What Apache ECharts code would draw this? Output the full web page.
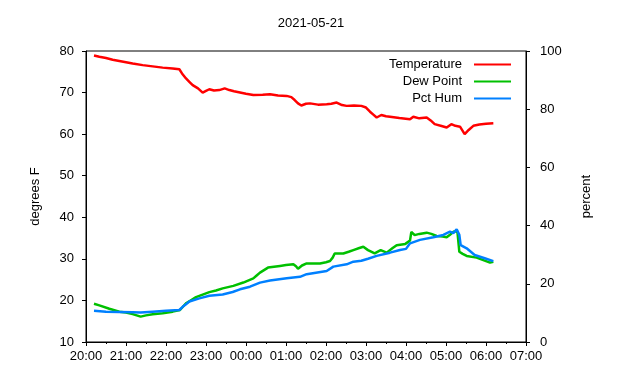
<!DOCTYPE html>
<html>
<head>
<meta charset="utf-8">
<script src="https://cdn.jsdelivr.net/npm/echarts@6/dist/echarts.min.js"></script>
<style>html,body{margin:0;padding:0;background:#fff;}#c{width:640px;height:380px;}</style>
</head>
<body>
<div id="c"></div>
<script>
const titleText = "2021-05-21";
const tickHours = ["20:00","21:00","22:00","23:00","00:00","01:00","02:00","03:00","04:00","05:00","06:00","07:00"];

const tempTimes = ["20:12","20:20","20:30","20:40","20:50","21:00","21:10","21:25","21:40","21:55","22:10","22:20","22:24","22:30","22:35","22:40","22:48","22:55","23:00","23:05","23:12","23:20","23:28","23:35","23:42","23:51","00:00","00:11","00:25","00:36","00:48","01:01","01:08","01:13","01:18","01:23","01:30","01:36","01:48","02:01","02:08","02:16","02:24","02:31","02:42","02:53","03:00","03:06","03:11","03:16","03:23","03:30","03:36","03:50","04:06","04:11","04:20","04:31","04:37","04:43","04:52","05:01","05:08","05:14","05:21","05:25","05:28","05:34","05:41","05:50","06:00","06:11"];
const tempValues = [78.9,78.6,78.3,77.9,77.6,77.3,77.0,76.6,76.3,76.0,75.8,75.6,74.6,73.4,72.6,71.8,71.0,70.0,70.4,70.8,70.5,70.6,71.0,70.6,70.3,70.0,69.7,69.4,69.5,69.6,69.3,69.2,68.9,68.2,67.4,66.9,67.3,67.4,67.1,67.2,67.3,67.6,67.0,66.8,66.9,66.8,66.4,65.4,64.7,64.0,64.6,64.3,64.2,63.9,63.6,64.2,63.8,64.0,63.3,62.4,62.0,61.6,62.4,62.0,61.8,60.8,60.0,61.0,62.0,62.3,62.5,62.6];

const dewTimes = ["20:12","20:20","20:35","20:50","21:00","21:10","21:22","21:30","21:40","21:55","22:10","22:21","22:26","22:30","22:38","22:45","22:55","23:05","23:15","23:25","23:41","23:56","00:11","00:16","00:21","00:27","00:33","00:51","01:00","01:11","01:15","01:18","01:24","01:31","01:51","02:00","02:06","02:10","02:13","02:26","02:34","02:41","02:50","02:56","03:03","03:13","03:22","03:31","03:40","03:46","03:59","04:06","04:08","04:13","04:20","04:31","04:38","04:46","04:55","05:01","05:06","05:11","05:17","05:20","05:25","05:31","05:46","05:56","06:06","06:11"];
const dewValues = [19.2,18.8,18.0,17.3,17.1,16.7,16.1,16.4,16.7,16.9,17.3,17.7,18.6,19.3,20.1,20.8,21.4,22.0,22.4,22.9,23.5,24.3,25.3,26.0,26.7,27.3,27.9,28.3,28.5,28.7,28.2,27.6,28.4,28.9,28.9,29.2,29.5,30.3,31.3,31.3,31.7,32.1,32.6,32.9,32.1,31.3,32.1,31.5,32.6,33.3,33.6,34.4,36.5,35.7,36.0,36.3,36.0,35.5,35.4,35.2,35.8,36.5,36.7,31.7,31.2,30.7,30.3,29.7,29.1,29.3];

const humTimes = ["20:12","20:30","20:50","21:10","21:22","21:40","22:00","22:20","22:25","22:30","22:35","22:50","23:05","23:25","23:40","23:51","00:06","00:21","00:36","01:01","01:21","01:31","02:01","02:11","02:31","02:41","02:53","03:03","03:16","03:36","03:51","04:00","04:06","04:21","04:41","04:56","05:06","05:11","05:16","05:20","05:22","05:31","05:43","05:58","06:11"];
const humValues = [10.7,10.4,10.3,10.2,10.1,10.4,10.7,11.0,12.1,13.0,13.9,15.0,15.9,16.3,17.2,18.1,19.0,20.4,21.1,21.9,22.4,23.3,24.4,25.9,26.7,27.6,27.9,28.6,29.6,30.7,31.6,32.0,33.9,35.1,36.0,36.8,37.9,37.4,38.7,36.8,33.3,32.2,29.9,28.8,27.8];

function toMin(t){
  const p = t.split(":");
  let h = +p[0];
  if (h < 12) h += 24;
  return h*60 + (+p[1]) - 20*60;
}
function pairs(ts, vs){ return ts.map((t,i)=>[toMin(t), vs[i]]); }

const FONT = "Liberation Sans, Arial, sans-serif";
const chart = echarts.init(document.getElementById('c'), null, {renderer:'canvas'});
const axisCommon = {
  axisLine:{show:true, lineStyle:{color:'#000', width:1}},
  axisTick:{show:true, inside:false, length:4, lineStyle:{color:'#000'}},
  axisLabel:{color:'#000', fontSize:13, fontFamily:FONT},
  splitLine:{show:false}
};
function legendItem(name, top){
  return {
    data:[name], right:129, top:top, orient:'vertical', align:'right',
    itemWidth:37, itemHeight:2, icon:'rect', selectedMode:false,
    padding:0, itemGap:0,
    textStyle:{color:'#000', fontSize:13, fontFamily:FONT, padding:[0,7,0,0]}
  };
}
chart.setOption({
  animation:false,
  backgroundColor:'#fff',
  title:{text:titleText, left:306, top:12, textAlign:'center',
    textStyle:{color:'#000', fontSize:13, fontWeight:'normal', fontFamily:FONT}},
  grid:{left:86, right:114, top:51, bottom:38, show:true, borderColor:'#000', borderWidth:1, backgroundColor:'transparent'},
  legend:[legendItem('Temperature',58), legendItem('Dew Point',75), legendItem('Pct Hum',92)],
  xAxis:Object.assign({}, axisCommon, {
    type:'value', min:0, max:660, interval:60,
    minorTick:{show:true, splitNumber:2, length:2, lineStyle:{color:'#000'}},
    axisLabel:{color:'#000', fontSize:13, fontFamily:FONT, margin:8,
      formatter:(v)=>tickHours[Math.round(v/60)]}
  }),
  yAxis:[
    Object.assign({}, axisCommon, {type:'value', min:10, max:80, interval:10, position:'left',
      name:'degrees F', nameLocation:'middle', nameGap:44, nameRotate:90,
      nameTextStyle:{color:'#000', fontSize:13, fontFamily:FONT},
      axisLabel:{color:'#000', fontSize:13, fontFamily:FONT, margin:12}}),
    Object.assign({}, axisCommon, {type:'value', min:0, max:100, interval:20, position:'right',
      name:'percent', nameLocation:'middle', nameGap:54, nameRotate:90,
      nameTextStyle:{color:'#000', fontSize:13, fontFamily:FONT},
      axisLabel:{color:'#000', fontSize:13, fontFamily:FONT, margin:14}})
  ],
  series:[
    {name:'Temperature', type:'line', yAxisIndex:0, data:pairs(tempTimes,tempValues), showSymbol:false, symbol:'none',
      lineStyle:{color:'#ff0000', width:2.5}, itemStyle:{color:'#ff0000'}},
    {name:'Dew Point', type:'line', yAxisIndex:0, data:pairs(dewTimes,dewValues), showSymbol:false, symbol:'none',
      lineStyle:{color:'#00c000', width:2.5}, itemStyle:{color:'#00c000'}},
    {name:'Pct Hum', type:'line', yAxisIndex:1, data:pairs(humTimes,humValues), showSymbol:false, symbol:'none',
      lineStyle:{color:'#0080ff', width:2.5}, itemStyle:{color:'#0080ff'}}
  ]
});
</script>
</body>
</html>
